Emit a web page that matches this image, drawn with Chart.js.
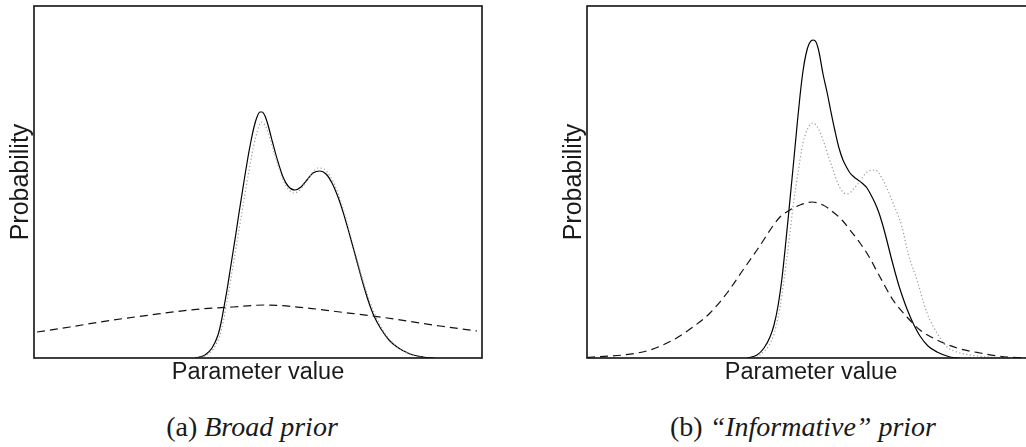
<!DOCTYPE html>
<html>
<head>
<meta charset="utf-8">
<script src="https://cdn.jsdelivr.net/npm/chart.js@4.4.1/dist/chart.umd.min.js"></script>
<style>
  html, body { margin: 0; padding: 0; background: #fff; width: 1026px; height: 447px; overflow: hidden; position: relative; }
  .panel { position: absolute; top: 0; width: 500px; height: 400px; }
  .caption { position: absolute; width: 400px; text-align: center; font-family: "Liberation Serif", "Times New Roman", serif; font-size: 28px; line-height: 28px; color: #1a1a1a; white-space: nowrap; }
  .caption i { font-style: italic; }
</style>
</head>
<body>
<div class="panel" style="left:0px"><canvas id="broad" width="500" height="400"></canvas></div>
<div class="panel" style="left:553px"><canvas id="informative" width="500" height="400"></canvas></div>
<div class="caption" style="left:52px; top:413px">(a) <i>Broad prior</i></div>
<div class="caption" style="left:603px; top:413px">(b) <i>“Informative” prior</i></div>
<script>
// ---- (a) Broad prior ----
const broadPriorX = [3, 36, 66, 116, 166, 199, 231, 273, 306, 339, 373, 406, 443];
const broadPriorY = [26, 31, 36, 43, 49, 51, 53, 50, 46, 42, 37, 32, 27];

const broadPostX = [161, 171, 178, 184, 187, 190, 193, 196, 199, 202, 205, 208, 211, 214, 217, 220, 223, 226, 228, 231, 234, 239, 244, 249, 254, 261, 267, 273, 279, 286, 292, 298, 304, 310, 316, 322, 328, 334, 340, 347, 355, 363, 376, 389, 401];
const broadPostY = [0, 3, 10, 23, 35, 51, 68, 87, 106, 125, 145, 164, 183, 201, 217, 231, 241, 246, 246, 242, 233, 214, 196, 181, 172, 168, 171, 178, 185, 187, 184, 175, 161, 143, 122, 100, 78, 58, 42, 29, 18, 11, 4, 1, 0];

const broadLikeX = [163, 173, 180, 186, 189, 192, 195, 198, 201, 204, 207, 210, 213, 216, 219, 222, 225, 227, 229, 232, 235, 240, 245, 250, 255, 260, 266, 272, 278, 284, 290, 296, 302, 307, 312, 318, 324, 330, 336, 342, 350, 359, 368, 378, 391];
const broadLikeY = [0, 3, 10, 23, 35, 51, 68, 86, 104, 122, 140, 158, 176, 193, 209, 222, 232, 236, 235, 231, 223, 206, 190, 176, 168, 165, 168, 176, 185, 190, 189, 182, 170, 156, 139, 117, 95, 74, 56, 41, 26, 15, 8, 3, 0];

// ---- (b) "Informative" prior ----
const infoPriorX = [0, 6, 36, 63, 86, 106, 123, 140, 156, 170, 193, 203, 213, 225, 236, 246, 255, 263, 273, 281, 293, 306, 320, 333, 350, 370, 393, 420, 448];
const infoPriorY = [0.5, 1, 3, 8, 18, 31, 45, 65, 88, 108, 141, 148, 153, 156, 153, 146, 138, 128, 115, 103, 81, 58, 41, 28, 18, 10, 5, 1, 0];

const infoPostX = [160, 170, 177, 183, 187, 191, 195, 198, 201, 204, 207, 210, 213, 216, 219, 222, 226, 229, 232, 236, 240, 244, 248, 252, 256, 260, 263, 267, 271, 275, 280, 284, 288, 292, 296, 300, 304, 308, 312, 316, 320, 326, 333, 341, 350, 363, 373];
const infoPostY = [0, 3, 10, 21, 33, 52, 80, 108, 138, 169, 200, 232, 262, 287, 304, 314, 318, 316, 306, 284, 266, 246, 227, 210, 198, 190, 185, 181, 178, 175, 170, 163, 155, 145, 132, 117, 101, 86, 72, 60, 49, 35, 22, 12, 6, 1, 0];

const infoLikeX = [170, 186, 193, 200, 203, 206, 211, 216, 221, 226, 231, 236, 245, 253, 260, 270, 280, 288, 296, 306, 315, 321, 330, 340, 350, 360, 370, 383, 400, 423];
const infoLikeY = [0, 21, 51, 101, 125, 151, 185, 215, 230, 235, 230, 218, 191, 170, 164, 173, 186, 188, 178, 155, 131, 105, 78, 45, 25, 11, 6, 3, 1, 0];

const xRange = [0, 448];
const yRange = [0, 352];

function pairs(xs, ys) { return xs.map((x, i) => ({ x: x, y: ys[i] })); }

// frame around the plotting area
const framePlugin = {
  id: 'frame',
  afterDraw(chart) {
    const a = chart.chartArea, c = chart.ctx;
    c.save();
    c.strokeStyle = '#111';
    c.lineWidth = 1.6;
    c.strokeRect(a.left, a.top, a.right - a.left, a.bottom - a.top);
    c.restore();
  }
};

const sans = '"Liberation Sans", Arial, Helvetica, sans-serif';

function makeChart(id, prior, post, like) {
  const line = (data, style) => Object.assign({
    data: data, pointRadius: 0, pointHoverRadius: 0, fill: false,
    cubicInterpolationMode: 'monotone', borderWidth: 1.2
  }, style);
  return new Chart(document.getElementById(id), {
    type: 'line',
    data: {
      datasets: [
        line(like, { label: 'likelihood', borderColor: '#9a9a9a', borderDash: [1.2, 2.4] }),
        line(prior, { label: 'prior', borderColor: '#111', borderDash: [8, 5] }),
        line(post, { label: 'posterior', borderColor: '#000' })
      ]
    },
    options: {
      responsive: false,
      animation: false,
      events: [],
      layout: { padding: { left: 0, top: 6, right: 18, bottom: 0 } },
      plugins: { legend: { display: false }, tooltip: { enabled: false } },
      scales: {
        x: {
          type: 'linear', min: xRange[0], max: xRange[1],
          grid: { display: false, drawTicks: false },
          border: { display: false },
          ticks: { display: false },
          title: { display: true, text: 'Parameter value', color: '#1a1a1a', font: { family: sans, size: 23.5 }, padding: { top: 0, bottom: 13 } },
          afterFit(scale) { scale.height = 42; }
        },
        y: {
          type: 'linear', min: yRange[0], max: yRange[1],
          grid: { display: false, drawTicks: false },
          border: { display: false },
          ticks: { display: false },
          title: { display: true, text: 'Probability', color: '#1a1a1a', font: { family: sans, size: 25 }, padding: { top: 6, bottom: 0 } },
          afterFit(scale) { scale.width = 34; }
        }
      }
    },
    plugins: [framePlugin]
  });
}

makeChart('broad', pairs(broadPriorX, broadPriorY), pairs(broadPostX, broadPostY), pairs(broadLikeX, broadLikeY));
makeChart('informative', pairs(infoPriorX, infoPriorY), pairs(infoPostX, infoPostY), pairs(infoLikeX, infoLikeY));
</script>
</body>
</html>
